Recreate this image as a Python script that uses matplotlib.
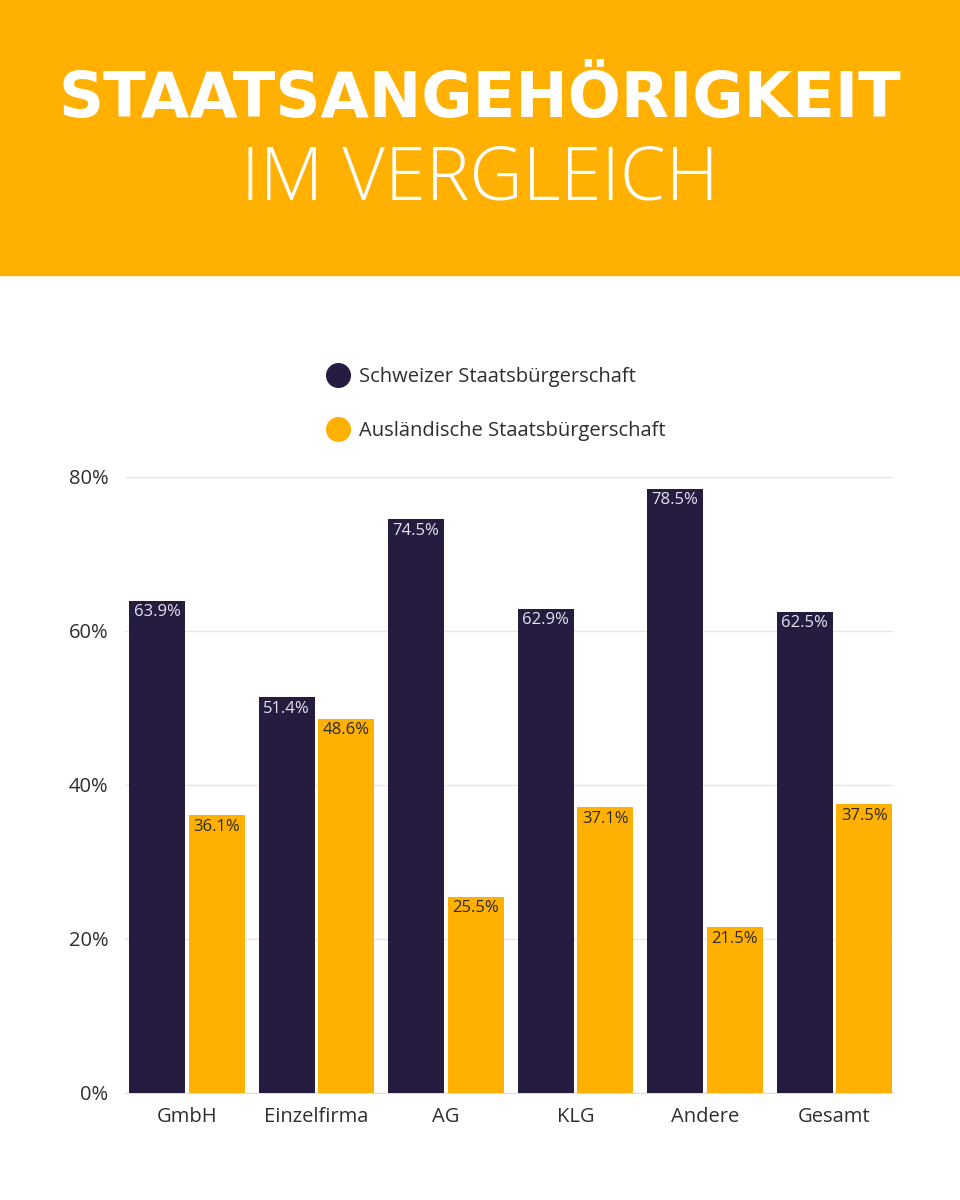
import numpy as np
import matplotlib.pyplot as plt
from matplotlib.lines import Line2D
from matplotlib.patches import Rectangle

categories = ['GmbH', 'Einzelfirma', 'AG', 'KLG', 'Andere', 'Gesamt']
schweizer = [63.9, 51.4, 74.5, 62.9, 78.5, 62.5]
auslaendisch = [36.1, 48.6, 25.5, 37.1, 21.5, 37.5]
series_names = ['Schweizer Staatsbürgerschaft', 'Ausländische Staatsbürgerschaft']

DARK = '#261c40'
ORANGE = '#ffb000'
TEXT = '#2e2e2e'

plt.rcParams['font.family'] = ['Open Sans', 'DejaVu Sans']

fig = plt.figure(figsize=(9.6, 12), dpi=100)

# orange header band
fig.patches.append(Rectangle((0, 1 - 275 / 1200), 1, 275 / 1200,
                             transform=fig.transFigure, color=ORANGE, zorder=0))
fig.text(0.5, 1 - 100 / 1200, 'STAATSANGEHÖRIGKEIT', ha='center', va='center',
         fontsize=45, fontweight='bold', color='white',
         family=['DejaVu Sans'])
fig.text(0.5, 1 - 181 / 1200, 'IM VERGLEICH', ha='center', va='center',
         fontsize=53, fontweight='light', color='white')

ax = fig.add_axes([0.130, 1 - 1093 / 1200, 0.800, (1093 - 477) / 1200])

x = np.arange(len(categories))
w = 0.432
off = 0.231
b1 = ax.bar(x - off, schweizer, w, color=DARK, zorder=3)
b2 = ax.bar(x + off, auslaendisch, w, color=ORANGE, zorder=3)

for bars, vals, col in [(b1, schweizer, '#e4e4ec'), (b2, auslaendisch, '#2a2a2a')]:
    for rect, v in zip(bars, vals):
        ax.annotate(f'{v:.1f}%', (rect.get_x() + rect.get_width() / 2, v),
                    xytext=(0, -2.5), textcoords='offset points',
                    ha='center', va='top', fontsize=12, color=col, zorder=4)

ax.set_ylim(0, 80)
ax.set_xlim(-0.48, 5.45)
ax.set_yticks([0, 20, 40, 60, 80])
ax.set_yticklabels(['0%', '20%', '40%', '60%', '80%'])
ax.set_xticks(x)
ax.set_xticklabels(categories)
ax.tick_params(length=0, labelsize=14.5, labelcolor=TEXT)
ax.tick_params(axis='y', pad=12)
ax.tick_params(axis='x', pad=10)
ax.grid(axis='y', color='#e6e6e6', linewidth=1, zorder=0)
for s in ['top', 'right', 'left']:
    ax.spines[s].set_visible(False)
ax.spines['bottom'].set_color('#dddddd')

handles = [Line2D([], [], marker='o', linestyle='', markersize=17, color=DARK),
           Line2D([], [], marker='o', linestyle='', markersize=17, color=ORANGE)]
fig.legend(handles, series_names, loc='center left',
           bbox_to_anchor=(308 / 960, 1 - 404 / 1200), frameon=False,
           fontsize=14.5, labelcolor=TEXT, labelspacing=1.7,
           handletextpad=0.45, handlelength=1.2)

fig.savefig('out.png', dpi=100)
